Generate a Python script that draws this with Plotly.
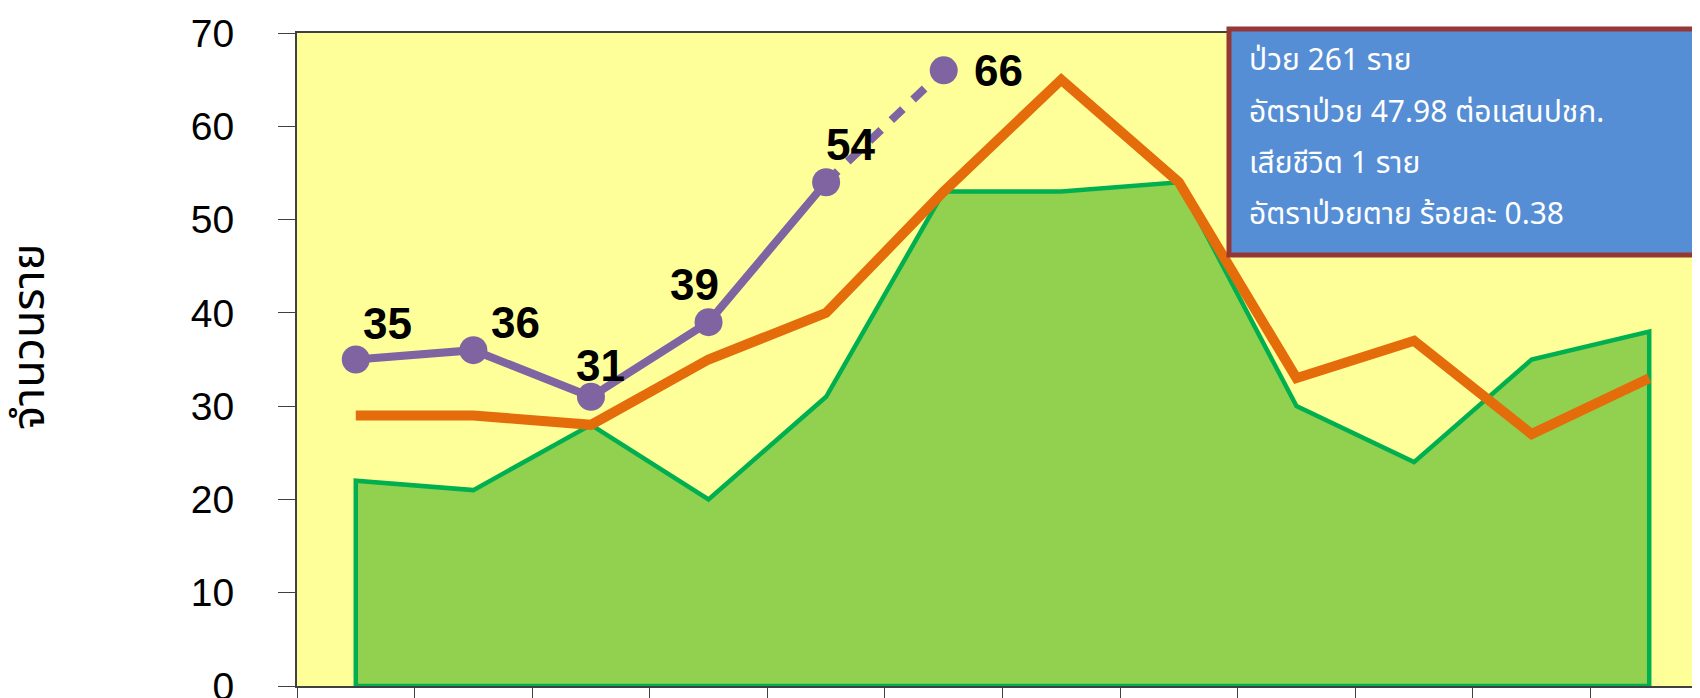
import plotly.graph_objects as go

months = ["ม.ค.", "ก.พ.", "มี.ค.", "เม.ย.", "พ.ค.", "มิ.ย.",
          "ก.ค.", "ส.ค.", "ก.ย.", "ต.ค.", "พ.ย.", "ธ.ค."]
prev_year = [22, 21, 28, 20, 31, 53, 53, 54, 30, 24, 35, 38]
median_5y = [29, 29, 28, 35, 40, 53, 65, 54, 33, 37, 27, 33]
current_year = [35, 36, 31, 39, 54, 66]
n_solid = 5  # last segment (to the latest month) is dashed

# label offsets (pixels) for the current-year data labels
label_dx = [32, 42, 10, -14, 24, 55]
label_dy = [36, 28, 31, 38, 38, 0]

summary_lines = [
    "ป่วย 261 ราย",
    "อัตราป่วย 47.98 ต่อแสนปชก.",
    "เสียชีวิต 1 ราย",
    "อัตราป่วยตาย ร้อยละ 0.38",
]
y_title = "จำนวนราย"

OFF = 8  # page body margin
W, H = 1700, 698
L = 297 - OFF
T = 33 - OFF
B = H - (686 - OFF)
R = 0
pw, ph = W - L - R, H - T - B

THAI = "Tahoma, Noto Sans Thai, Noto Sans, DejaVu Sans"

fig = go.Figure()

# green area (closed polygon with outline)
gx = [months[0]] + months + [months[-1], months[0]]
gy = [0] + prev_year + [0, 0]
fig.add_trace(go.Scatter(x=gx, y=gy, mode="lines", fill="toself",
                         fillcolor="#92D050",
                         line=dict(color="#00B050", width=4.5),
                         name="ปีที่แล้ว", showlegend=False, hoverinfo="skip"))

fig.add_trace(go.Scatter(x=months, y=median_5y, mode="lines",
                         line=dict(color="#E46C0A", width=10),
                         name="ค่ามัธยฐาน 5 ปี", showlegend=False))

cm = months[:len(current_year)]
fig.add_trace(go.Scatter(x=cm[n_solid - 1:], y=current_year[n_solid - 1:], mode="lines",
                         line=dict(color="#8064A2", width=8, dash="16px,14px"),
                         showlegend=False, hoverinfo="skip"))
fig.add_trace(go.Scatter(x=cm[:n_solid], y=current_year[:n_solid], mode="lines",
                         line=dict(color="#8064A2", width=8),
                         showlegend=False, hoverinfo="skip"))
fig.add_trace(go.Scatter(x=cm, y=current_year, mode="markers",
                         marker=dict(color="#8064A2", size=28),
                         name="ปีนี้", showlegend=False))

annotations = []
for m, v, dx, dy in zip(cm, current_year, label_dx, label_dy):
    annotations.append(dict(x=m, y=v, xref="x", yref="y", text=str(v),
                            showarrow=False, xshift=dx, yshift=dy,
                            font=dict(family="Liberation Sans", size=44, color="#000000", weight="bold")))


def px_x(p):
    return (p - OFF - L) / pw


def px_y(p):
    return (H - B - (p - OFF)) / ph


# y-axis title
annotations.append(dict(x=px_x(30), y=px_y(337), xref="paper", yref="paper",
                        xanchor="center", yanchor="middle", text=y_title, textangle=-90,
                        showarrow=False, font=dict(family=THAI, size=45, color="black")))

# summary box text
line_centres = [61, 113, 164, 215]
for txt, cy in zip(summary_lines, line_centres):
    annotations.append(dict(x=px_x(1247), y=px_y(cy), xref="paper", yref="paper",
                            xanchor="left", yanchor="middle", text=txt, showarrow=False,
                            font=dict(family=THAI, size=30, color="white")))

shapes = [dict(type="rect", xref="paper", yref="paper",
               x0=px_x(1229), x1=px_x(1696), y0=px_y(29), y1=px_y(255),
               fillcolor="#558ED5", line=dict(color="#953735", width=5), layer="above")]

fig.update_layout(
    width=W, height=H,
    margin=dict(l=L, r=R, t=T, b=B, autoexpand=False),
    paper_bgcolor="white", plot_bgcolor="#FFFF99",
    annotations=annotations, shapes=shapes, showlegend=False,
)
fig.update_xaxes(type="category", categoryorder="array", categoryarray=months,
                 range=[-0.5, 11.5], tickson="boundaries", ticks="outside", ticklen=20,
                 tickcolor="#404040", showline=True, linecolor="#404040", linewidth=2,
                 mirror=True, showgrid=False, zeroline=False, automargin=False,
                 tickfont=dict(family="Liberation Sans", size=30, color="black"))
fig.update_yaxes(range=[0, 70], dtick=10, ticks="outside", ticklen=17, tickcolor="#404040",
                 showline=True, linecolor="#404040", linewidth=2, showgrid=False,
                 zeroline=False, automargin=False, ticklabelstandoff=36,
                 ticklabeloverflow="allow",
                 tickfont=dict(family="Liberation Sans", size=39, color="black"))

fig.write_html("out.html")
